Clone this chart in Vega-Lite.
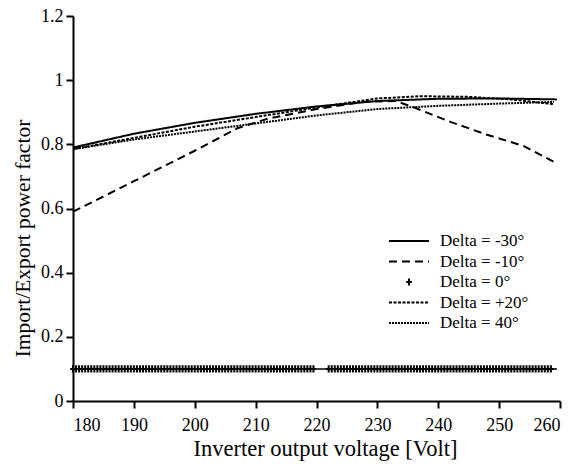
{
  "$schema": "https://vega.github.io/schema/vega-lite/v6.json",
  "width": 487,
  "height": 385,
  "autosize": {"type": "none"},
  "padding": {"left": 73, "top": 16, "right": 22, "bottom": 63},
  "background": "white",
  "config": {
    "view": {"stroke": null},
    "font": "Liberation Serif",
    "axis": {
      "domainColor": "black", "domainWidth": 2, "tickColor": "black", "tickWidth": 2, "tickSize": 7,
      "labelFont": "Liberation Serif", "labelFontSize": 18, "labelColor": "black",
      "titleFont": "Liberation Serif", "titleFontSize": 21, "titleFontWeight": "normal", "titleColor": "black",
      "grid": false
    }
  },
  "datasets": {
    "curves": [
      {"v": 180, "pf": 0.79, "series": "Delta = -30°"},
      {"v": 190, "pf": 0.833, "series": "Delta = -30°"},
      {"v": 200, "pf": 0.867, "series": "Delta = -30°"},
      {"v": 210, "pf": 0.895, "series": "Delta = -30°"},
      {"v": 220, "pf": 0.918, "series": "Delta = -30°"},
      {"v": 230, "pf": 0.935, "series": "Delta = -30°"},
      {"v": 240, "pf": 0.942, "series": "Delta = -30°"},
      {"v": 250, "pf": 0.943, "series": "Delta = -30°"},
      {"v": 259.5, "pf": 0.94, "series": "Delta = -30°"},
      {"v": 180, "pf": 0.59, "series": "Delta = -10°"},
      {"v": 190, "pf": 0.685, "series": "Delta = -10°"},
      {"v": 200, "pf": 0.78, "series": "Delta = -10°"},
      {"v": 207, "pf": 0.85, "series": "Delta = -10°"},
      {"v": 212, "pf": 0.88, "series": "Delta = -10°"},
      {"v": 220, "pf": 0.91, "series": "Delta = -10°"},
      {"v": 228, "pf": 0.933, "series": "Delta = -10°"},
      {"v": 233, "pf": 0.935, "series": "Delta = -10°"},
      {"v": 236, "pf": 0.915, "series": "Delta = -10°"},
      {"v": 242, "pf": 0.87, "series": "Delta = -10°"},
      {"v": 248, "pf": 0.83, "series": "Delta = -10°"},
      {"v": 254, "pf": 0.795, "series": "Delta = -10°"},
      {"v": 259, "pf": 0.745, "series": "Delta = -10°"},
      {"v": 180, "pf": 0.785, "series": "Delta = +20°"},
      {"v": 190, "pf": 0.82, "series": "Delta = +20°"},
      {"v": 200, "pf": 0.855, "series": "Delta = +20°"},
      {"v": 210, "pf": 0.885, "series": "Delta = +20°"},
      {"v": 220, "pf": 0.915, "series": "Delta = +20°"},
      {"v": 230, "pf": 0.943, "series": "Delta = +20°"},
      {"v": 237, "pf": 0.95, "series": "Delta = +20°"},
      {"v": 245, "pf": 0.948, "series": "Delta = +20°"},
      {"v": 252, "pf": 0.94, "series": "Delta = +20°"},
      {"v": 259, "pf": 0.925, "series": "Delta = +20°"},
      {"v": 180, "pf": 0.785, "series": "Delta = 40°"},
      {"v": 190, "pf": 0.815, "series": "Delta = 40°"},
      {"v": 200, "pf": 0.84, "series": "Delta = 40°"},
      {"v": 210, "pf": 0.865, "series": "Delta = 40°"},
      {"v": 220, "pf": 0.89, "series": "Delta = 40°"},
      {"v": 230, "pf": 0.91, "series": "Delta = 40°"},
      {"v": 240, "pf": 0.92, "series": "Delta = 40°"},
      {"v": 250, "pf": 0.927, "series": "Delta = 40°"},
      {"v": 259, "pf": 0.932, "series": "Delta = 40°"}
    ],
    "zeroLine": [
      {"v": 180, "pf": 0.1},
      {"v": 259.5, "pf": 0.1}
    ],
    "zeroPts": [
      {"v": 180, "pf": 0.1}, {"v": 180.5, "pf": 0.1}, {"v": 181, "pf": 0.1}, {"v": 181.5, "pf": 0.1},
      {"v": 182, "pf": 0.1}, {"v": 182.5, "pf": 0.1}, {"v": 183, "pf": 0.1}, {"v": 183.5, "pf": 0.1},
      {"v": 184, "pf": 0.1}, {"v": 184.5, "pf": 0.1}, {"v": 185, "pf": 0.1}, {"v": 185.5, "pf": 0.1},
      {"v": 186, "pf": 0.1}, {"v": 186.5, "pf": 0.1}, {"v": 187, "pf": 0.1}, {"v": 187.5, "pf": 0.1},
      {"v": 188, "pf": 0.1}, {"v": 188.5, "pf": 0.1}, {"v": 189, "pf": 0.1}, {"v": 189.5, "pf": 0.1},
      {"v": 190, "pf": 0.1}, {"v": 190.5, "pf": 0.1}, {"v": 191, "pf": 0.1}, {"v": 191.5, "pf": 0.1},
      {"v": 192, "pf": 0.1}, {"v": 192.5, "pf": 0.1}, {"v": 193, "pf": 0.1}, {"v": 193.5, "pf": 0.1},
      {"v": 194, "pf": 0.1}, {"v": 194.5, "pf": 0.1}, {"v": 195, "pf": 0.1}, {"v": 195.5, "pf": 0.1},
      {"v": 196, "pf": 0.1}, {"v": 196.5, "pf": 0.1}, {"v": 197, "pf": 0.1}, {"v": 197.5, "pf": 0.1},
      {"v": 198, "pf": 0.1}, {"v": 198.5, "pf": 0.1}, {"v": 199, "pf": 0.1}, {"v": 199.5, "pf": 0.1},
      {"v": 200, "pf": 0.1}, {"v": 200.5, "pf": 0.1}, {"v": 201, "pf": 0.1}, {"v": 201.5, "pf": 0.1},
      {"v": 202, "pf": 0.1}, {"v": 202.5, "pf": 0.1}, {"v": 203, "pf": 0.1}, {"v": 203.5, "pf": 0.1},
      {"v": 204, "pf": 0.1}, {"v": 204.5, "pf": 0.1}, {"v": 205, "pf": 0.1}, {"v": 205.5, "pf": 0.1},
      {"v": 206, "pf": 0.1}, {"v": 206.5, "pf": 0.1}, {"v": 207, "pf": 0.1}, {"v": 207.5, "pf": 0.1},
      {"v": 208, "pf": 0.1}, {"v": 208.5, "pf": 0.1}, {"v": 209, "pf": 0.1}, {"v": 209.5, "pf": 0.1},
      {"v": 210, "pf": 0.1}, {"v": 210.5, "pf": 0.1}, {"v": 211, "pf": 0.1}, {"v": 211.5, "pf": 0.1},
      {"v": 212, "pf": 0.1}, {"v": 212.5, "pf": 0.1}, {"v": 213, "pf": 0.1}, {"v": 213.5, "pf": 0.1},
      {"v": 214, "pf": 0.1}, {"v": 214.5, "pf": 0.1}, {"v": 215, "pf": 0.1}, {"v": 215.5, "pf": 0.1},
      {"v": 216, "pf": 0.1}, {"v": 216.5, "pf": 0.1}, {"v": 217, "pf": 0.1}, {"v": 217.5, "pf": 0.1},
      {"v": 218, "pf": 0.1}, {"v": 218.5, "pf": 0.1}, {"v": 219, "pf": 0.1}, {"v": 219.5, "pf": 0.1},
      {"v": 222, "pf": 0.1}, {"v": 222.5, "pf": 0.1}, {"v": 223, "pf": 0.1}, {"v": 223.5, "pf": 0.1},
      {"v": 224, "pf": 0.1}, {"v": 224.5, "pf": 0.1}, {"v": 225, "pf": 0.1}, {"v": 225.5, "pf": 0.1},
      {"v": 226, "pf": 0.1}, {"v": 226.5, "pf": 0.1}, {"v": 227, "pf": 0.1}, {"v": 227.5, "pf": 0.1},
      {"v": 228, "pf": 0.1}, {"v": 228.5, "pf": 0.1}, {"v": 229, "pf": 0.1}, {"v": 229.5, "pf": 0.1},
      {"v": 230, "pf": 0.1}, {"v": 230.5, "pf": 0.1}, {"v": 231, "pf": 0.1}, {"v": 231.5, "pf": 0.1},
      {"v": 232, "pf": 0.1}, {"v": 232.5, "pf": 0.1}, {"v": 233, "pf": 0.1}, {"v": 233.5, "pf": 0.1},
      {"v": 234, "pf": 0.1}, {"v": 234.5, "pf": 0.1}, {"v": 235, "pf": 0.1}, {"v": 235.5, "pf": 0.1},
      {"v": 236, "pf": 0.1}, {"v": 236.5, "pf": 0.1}, {"v": 237, "pf": 0.1}, {"v": 237.5, "pf": 0.1},
      {"v": 238, "pf": 0.1}, {"v": 238.5, "pf": 0.1}, {"v": 239, "pf": 0.1}, {"v": 239.5, "pf": 0.1},
      {"v": 240, "pf": 0.1}, {"v": 240.5, "pf": 0.1}, {"v": 241, "pf": 0.1}, {"v": 241.5, "pf": 0.1},
      {"v": 242, "pf": 0.1}, {"v": 242.5, "pf": 0.1}, {"v": 243, "pf": 0.1}, {"v": 243.5, "pf": 0.1},
      {"v": 244, "pf": 0.1}, {"v": 244.5, "pf": 0.1}, {"v": 245, "pf": 0.1}, {"v": 245.5, "pf": 0.1},
      {"v": 246, "pf": 0.1}, {"v": 246.5, "pf": 0.1}, {"v": 247, "pf": 0.1}, {"v": 247.5, "pf": 0.1},
      {"v": 248, "pf": 0.1}, {"v": 248.5, "pf": 0.1}, {"v": 249, "pf": 0.1}, {"v": 249.5, "pf": 0.1},
      {"v": 250, "pf": 0.1}, {"v": 250.5, "pf": 0.1}, {"v": 251, "pf": 0.1}, {"v": 251.5, "pf": 0.1},
      {"v": 252, "pf": 0.1}, {"v": 252.5, "pf": 0.1}, {"v": 253, "pf": 0.1}, {"v": 253.5, "pf": 0.1},
      {"v": 254, "pf": 0.1}, {"v": 254.5, "pf": 0.1}, {"v": 255, "pf": 0.1}, {"v": 255.5, "pf": 0.1},
      {"v": 256, "pf": 0.1}, {"v": 256.5, "pf": 0.1}, {"v": 257, "pf": 0.1}, {"v": 257.5, "pf": 0.1},
      {"v": 258, "pf": 0.1}, {"v": 258.5, "pf": 0.1}
    ]
  },
  "encoding": {
    "x": {
      "field": "v", "type": "quantitative",
      "scale": {"domain": [180, 260], "nice": false, "zero": false},
      "axis": {"values": [180, 190, 200, 210, 220, 230, 240, 250, 260], "title": "Inverter output voltage [Volt]", "labelFont": "Liberation Serif", "labelFontSize": 18, "labelPadding": 8, "titlePadding": 3, "titleFontSize": 22.5, "titleX": 252}
    },
    "y": {
      "field": "pf", "type": "quantitative",
      "scale": {"domain": [0, 1.2], "nice": false},
      "axis": {"values": [0, 0.2, 0.4, 0.6, 0.8, 1, 1.2], "format": "~g", "title": "Import/Export power factor", "labelFont": "Liberation Serif", "labelFontSize": 18, "labelPadding": 3, "titlePadding": 6, "titleFontSize": 21.5, "titleY": 222}
    }
  },
  "layer": [
    {
      "data": {"name": "zeroLine"},
      "mark": {"type": "line", "color": "black", "strokeWidth": 1.5}
    },
    {
      "data": {"name": "curves"},
      "mark": {"type": "line", "color": "black", "strokeWidth": 2},
      "encoding": {
        "strokeDash": {
          "field": "series", "type": "nominal",
          "scale": {
            "domain": ["Delta = -30°", "Delta = -10°", "Delta = 0°", "Delta = +20°", "Delta = 40°"],
            "range": [[1, 0], [8, 5], [1, 0], [3, 1.5], [2, 1]]
          },
          "legend": {
            "title": null, "orient": "none", "legendX": 315, "legendY": 217,
            "labelFont": "Liberation Serif", "labelFontSize": 17, "labelColor": "black",
            "symbolStrokeColor": "black", "symbolStrokeWidth": 2, "symbolSize": 1600,
            "symbolFillColor": "transparent", "clipHeight": 16, "rowPadding": 3.5, "labelOffset": 10
          }
        }
      }
    },
    {
      "data": {"name": "zeroPts"},
      "mark": {"type": "point", "filled": false, "color": "black", "strokeWidth": 2, "size": 1600, "opacity": 1},
      "encoding": {
        "shape": {
          "datum": "Delta = 0°", "type": "nominal",
          "scale": {
            "domain": ["Delta = -30°", "Delta = -10°", "Delta = 0°", "Delta = +20°", "Delta = 40°"],
            "range": ["stroke", "stroke", "M0,-0.18V0.18M-0.14,0H0.14", "stroke", "stroke"]
          },
          "legend": {
            "title": null, "orient": "none", "legendX": 315, "legendY": 217,
            "labelFont": "Liberation Serif", "labelFontSize": 17, "labelColor": "black",
            "symbolStrokeColor": "black", "symbolStrokeWidth": 2, "symbolSize": 1600,
            "symbolFillColor": "transparent", "clipHeight": 16, "rowPadding": 3.5, "labelOffset": 10
          }
        }
      }
    }
  ]
}
